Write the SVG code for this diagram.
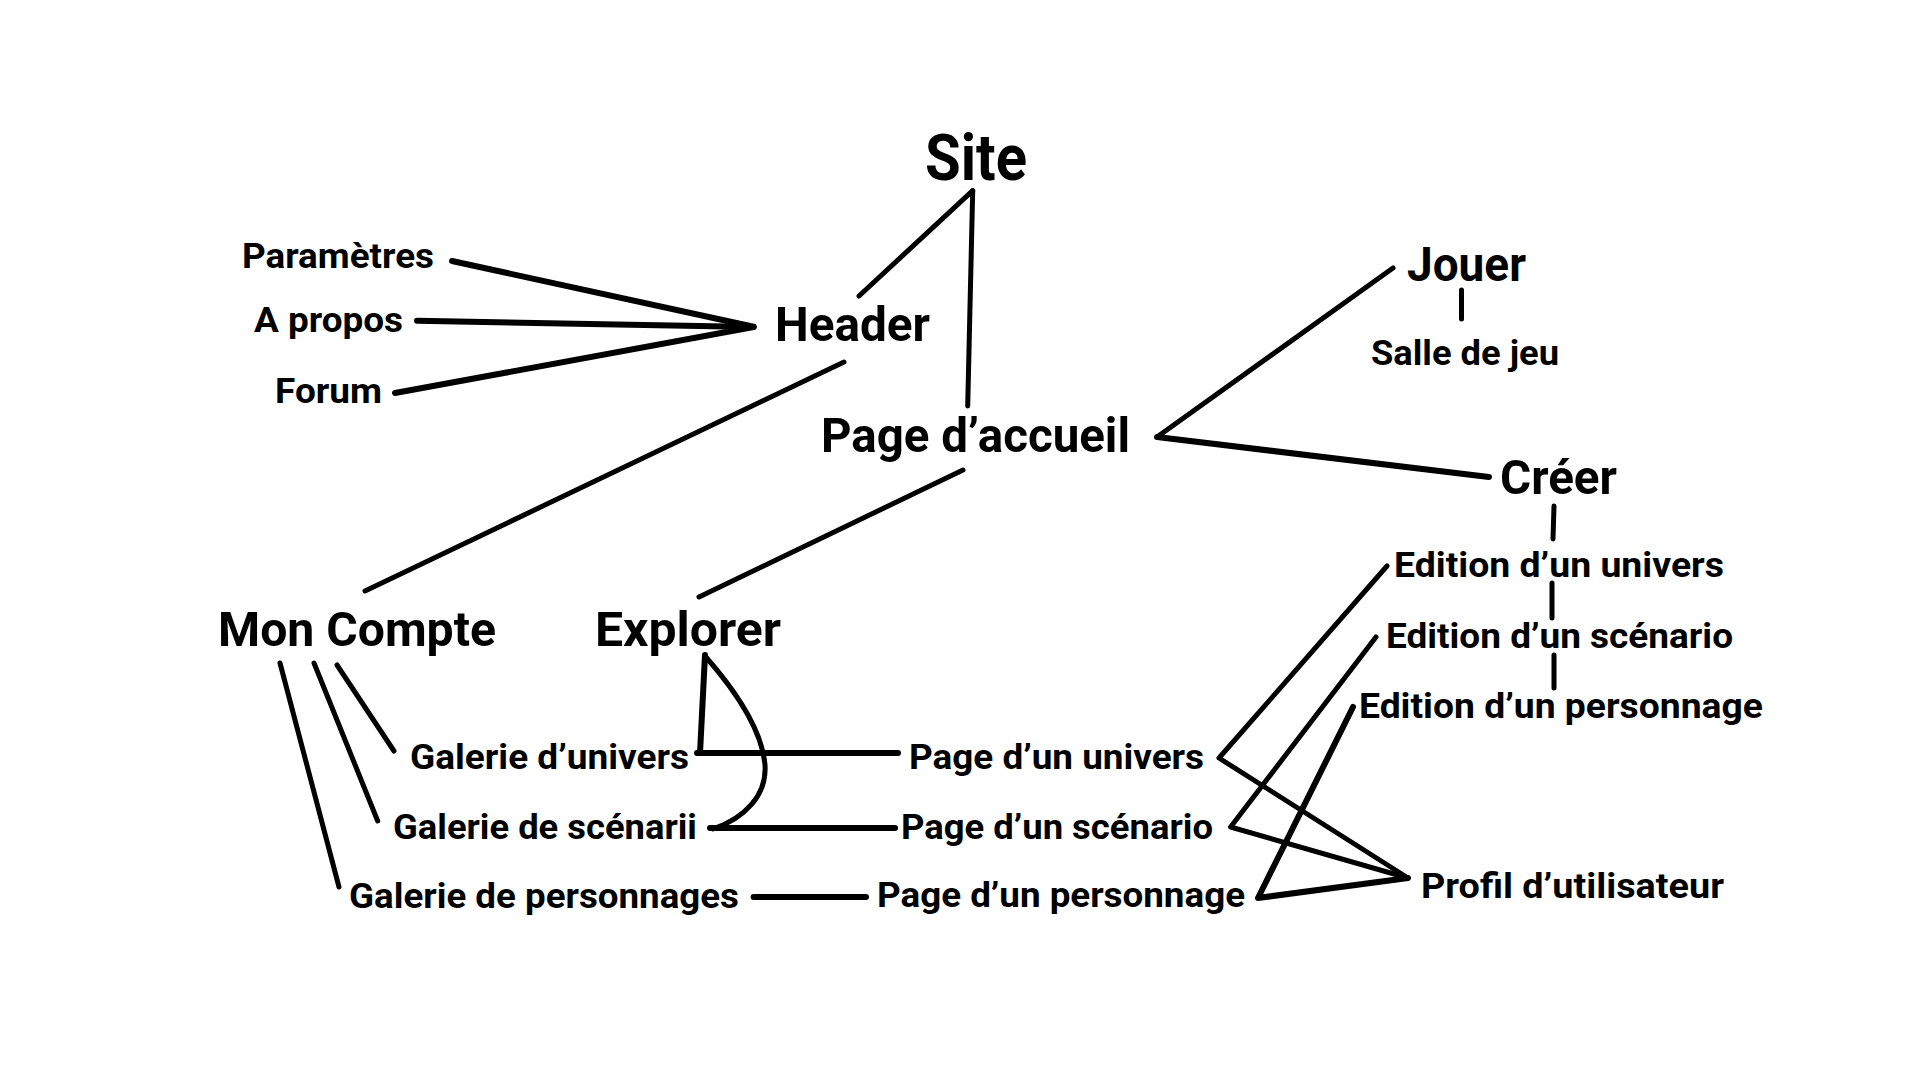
<svg xmlns="http://www.w3.org/2000/svg" width="1920" height="1080" viewBox="0 0 1920 1080">
<style>
.t{font-family:Roboto,"Liberation Sans",sans-serif;font-weight:700;fill:#000}
.big{font-size:49px}
.site{font-size:64px}
.sm{font-size:35px}
.c{fill:none;stroke:#000;stroke-width:5;stroke-linecap:round;stroke-linejoin:round}
.w{stroke-width:6}
</style>
<rect width="1920" height="1080" fill="#fff"/>
<g id="connectors">
<path class="c" d="M972.7,190.7 L859,296"/>
<path class="c" d="M972.7,190.7 L967.7,406"/>
<path class="c w" d="M452,261 L753.6,326.7"/>
<path class="c w" d="M417,320.7 L753.6,327"/>
<path class="c w" d="M395,393 L753.6,327"/>
<path class="c" d="M844,362 L365,591"/>
<path class="c" d="M963,470 L699,597"/>
<path class="c" d="M1157,437 L1393,268"/>
<path class="c w" d="M1157,437 L1489,477"/>
<path class="c" d="M1461.5,290 L1461.5,319"/>
<path class="c" d="M1554,506 L1553,539"/>
<path class="c" d="M1552,583 L1552,618"/>
<path class="c" d="M1554,655 L1554,688"/>
<path class="c" d="M280,663 L339,887"/>
<path class="c" d="M314,663 L377.7,821"/>
<path class="c" d="M337,665 L394,751"/>
<path class="c w" d="M705,655 L700,753 M697,753 L898,753"/>
<path class="c" d="M705,656 C735,690 762,730 765,765 C767,795 745,818 713,829"/>
<path class="c w" d="M710,828 L895,828"/>
<path class="c w" d="M753.6,897 L866,897"/>
<path class="c" d="M1387,566 L1219,758 L1408,878"/>
<path class="c" d="M1376,637 L1230.6,827 L1408,878"/>
<path class="c w" d="M1353,707 L1258,898 L1408,878"/>
</g>
<g id="site"><text class="t site" x="925" y="180" textLength="102" lengthAdjust="spacingAndGlyphs">Site</text></g>
<g id="header"><text class="t big" x="775" y="341" textLength="155" lengthAdjust="spacingAndGlyphs">Header</text></g>
<g id="page-accueil"><text class="t big" x="821" y="452" textLength="309" lengthAdjust="spacingAndGlyphs">Page d’accueil</text></g>
<g id="parametres"><text class="t sm" x="242" y="268" textLength="192" lengthAdjust="spacingAndGlyphs">Paramètres</text></g>
<g id="a-propos"><text class="t sm" x="254" y="332" textLength="149" lengthAdjust="spacingAndGlyphs">A propos</text></g>
<g id="forum"><text class="t sm" x="275" y="403" textLength="107" lengthAdjust="spacingAndGlyphs">Forum</text></g>
<g id="jouer"><text class="t big" x="1407" y="281" textLength="119" lengthAdjust="spacingAndGlyphs">Jouer</text></g>
<g id="salle"><text class="t sm" x="1371" y="365" textLength="188" lengthAdjust="spacingAndGlyphs">Salle de jeu</text></g>
<g id="creer"><text class="t big" x="1500" y="494" textLength="117" lengthAdjust="spacingAndGlyphs">Créer</text></g>
<g id="edition-univers"><text class="t sm" x="1394" y="577" textLength="330" lengthAdjust="spacingAndGlyphs">Edition d’un univers</text></g>
<g id="edition-scenario"><text class="t sm" x="1386" y="648" textLength="347" lengthAdjust="spacingAndGlyphs">Edition d’un scénario</text></g>
<g id="edition-personnage"><text class="t sm" x="1359" y="718" textLength="404" lengthAdjust="spacingAndGlyphs">Edition d’un personnage</text></g>
<g id="mon-compte"><text class="t big" x="218" y="646" textLength="278" lengthAdjust="spacingAndGlyphs">Mon Compte</text></g>
<g id="explorer"><text class="t big" x="595" y="646" textLength="186" lengthAdjust="spacingAndGlyphs">Explorer</text></g>
<g id="galerie-univers"><text class="t sm" x="410" y="769" textLength="279" lengthAdjust="spacingAndGlyphs">Galerie d’univers</text></g>
<g id="galerie-scenarii"><text class="t sm" x="393" y="839" textLength="304" lengthAdjust="spacingAndGlyphs">Galerie de scénarii</text></g>
<g id="galerie-personnages"><text class="t sm" x="349" y="908" textLength="390" lengthAdjust="spacingAndGlyphs">Galerie de personnages</text></g>
<g id="page-univers"><text class="t sm" x="909" y="769" textLength="295" lengthAdjust="spacingAndGlyphs">Page d’un univers</text></g>
<g id="page-scenario"><text class="t sm" x="901" y="839" textLength="312" lengthAdjust="spacingAndGlyphs">Page d’un scénario</text></g>
<g id="page-personnage"><text class="t sm" x="877" y="907" textLength="368" lengthAdjust="spacingAndGlyphs">Page d’un personnage</text></g>
<g id="profil"><text class="t sm" x="1421" y="898" textLength="303" lengthAdjust="spacingAndGlyphs">Profil d’utilisateur</text></g>
</svg>
